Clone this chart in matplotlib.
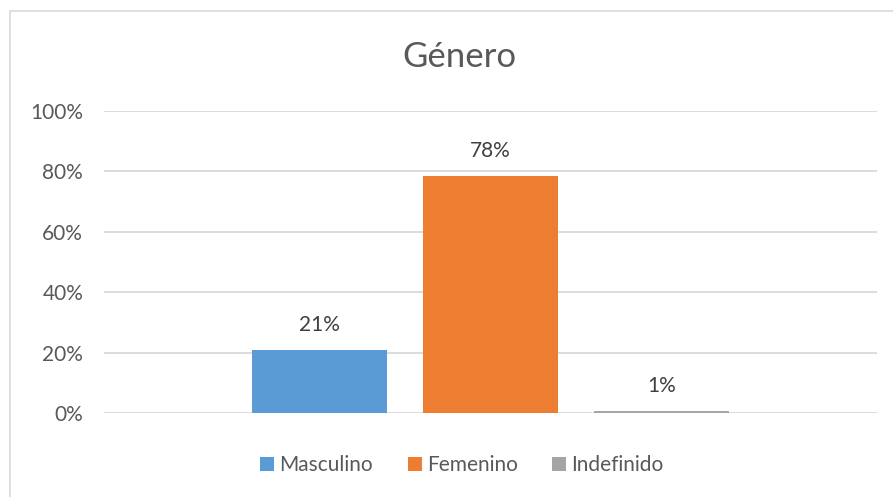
import matplotlib
matplotlib.use("Agg")
import matplotlib.pyplot as plt
from matplotlib.patches import Rectangle
from matplotlib.ticker import PercentFormatter

title = "Género"
series = ["Masculino", "Femenino", "Indefinido"]
values = [0.209, 0.784, 0.007]
colors = ["#5B9BD5", "#ED7D31", "#A5A5A5"]
yticks = [0, 0.2, 0.4, 0.6, 0.8, 1.0]

plt.rcParams['font.family'] = ['Lato', 'DejaVu Sans']

W, H = 893, 497
fig = plt.figure(figsize=(W / 100, H / 100), dpi=100)
fig.patch.set_facecolor("white")

# outer chart border
fig.patches.append(Rectangle((10 / W, -0.05), 1.2, 1 - 11 / H + 0.05,
                             transform=fig.transFigure, fill=False,
                             edgecolor="#D9D9D9", linewidth=1.2))

ax = fig.add_axes([104 / W, 84 / H, (877 - 104) / W, (386 - 84) / H])
ax.set_xlim(-0.5, 0.5)
ax.set_ylim(0, 1.0)

spacing = 0.2215
width = 0.1746
for i, (name, v, c) in enumerate(zip(series, values, colors)):
    x = (i - 1) * spacing
    bars = ax.bar(x, v, width=width, color=c, label=name, zorder=3)
    ax.bar_label(bars, labels=[f"{v:.0%}"], padding=11, fontsize=15,
                 color="#404040")

ax.set_yticks(yticks)
ax.yaxis.set_major_formatter(PercentFormatter(1.0, decimals=0))
ax.tick_params(axis='y', length=0, pad=15, labelsize=15, labelcolor="#595959")
ax.set_xticks([])
ax.grid(axis='y', color="#D9D9D9", linewidth=1.3, zorder=0)
for s in ax.spines.values():
    s.set_visible(False)

fig.text(459 / W, 1 - 57 / H, title, ha='center', va='center',
         fontsize=25, color="#595959")

leg = fig.legend(loc='center', bbox_to_anchor=(462 / W, 1 - 465 / H), ncol=3,
                 frameon=False, fontsize=15, handlelength=0.68,
                 handleheight=0.68, handletextpad=0.25, columnspacing=1.65)
for t in leg.get_texts():
    t.set_color("#595959")

fig.savefig("out.png", dpi=100, facecolor="white")
